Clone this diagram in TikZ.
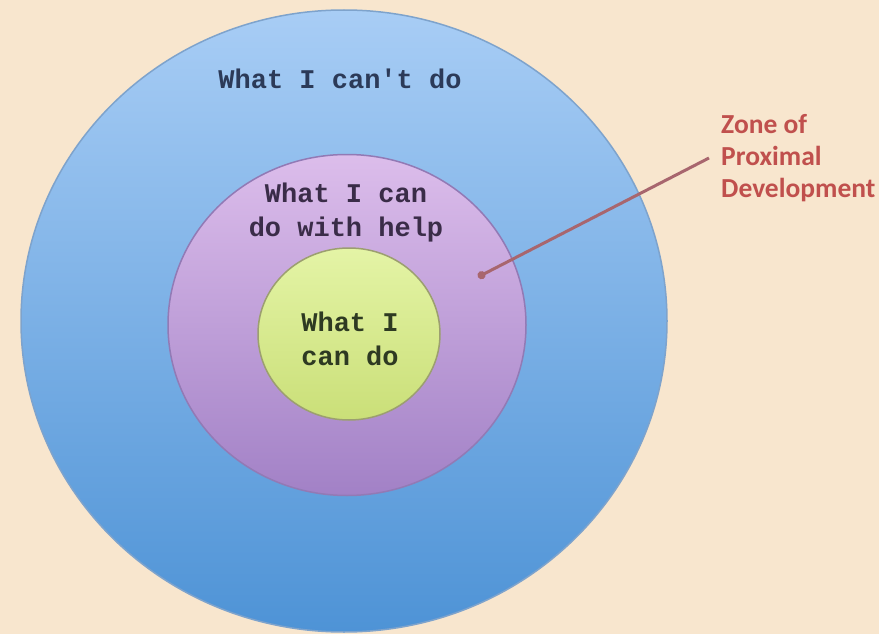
\documentclass[tikz,border=0pt]{standalone}
\usepackage{fontspec}
\setmonofont{Liberation Mono}
\newfontfamily\zpdfont{Carlito}
\usetikzlibrary{shapes.geometric,arrows.meta,positioning}

\definecolor{paper}{HTML}{F8E6CE}
\definecolor{cantTop}{HTML}{A8CDF5}
\definecolor{cantBot}{HTML}{4E93D6}
\definecolor{cantEdge}{HTML}{7EA3CC}
\definecolor{helpTop}{HTML}{DCBDEB}
\definecolor{helpBot}{HTML}{A281C6}
\definecolor{helpEdge}{HTML}{927AB5}
\definecolor{canTop}{HTML}{E4F4A6}
\definecolor{canBot}{HTML}{CADF78}
\definecolor{canEdge}{HTML}{9C9F70}
\definecolor{cantInk}{HTML}{2C3A58}
\definecolor{helpInk}{HTML}{3A2C48}
\definecolor{canInk}{HTML}{2E3A22}
\definecolor{zpdred}{HTML}{C0504D}
\definecolor{pointer}{HTML}{A8666E}

\tikzset{
  ring/.style={ellipse, inner sep=0pt, line width=1.5pt},
  monotext/.style={font=\ttfamily\bfseries\fontsize{27}{34}\selectfont, align=center},
  zpdtext/.style={font=\zpdfont\bfseries\fontsize{27.5}{32}\selectfont, text=zpdred,
    align=left, inner sep=0pt, inner xsep=12pt}
}

\begin{document}
\begin{tikzpicture}[x=1pt,y=-1pt]
\fill[paper] (0,0) rectangle (879,634);
\useasboundingbox (0,0) rectangle (879,634);

% three zones, outside in
\node[ring, draw=cantEdge, top color=cantTop, bottom color=cantBot,
  minimum width=646pt, minimum height=622pt] (cantzone) at (344,321) {};
\node[ring, draw=helpEdge, top color=helpTop, bottom color=helpBot,
  minimum width=358pt, minimum height=341pt] (helpzone) at (347,325) {};
\node[ring, draw=canEdge, top color=canTop, bottom color=canBot,
  minimum width=182pt, minimum height=172pt] (canzone) at (349,334) {};

\node[monotext, text=cantInk] (canttext) at (340,79) {What I can't do};
\node[monotext, text=helpInk] (helptext) at (346,213) {What I can\\do with help};
\node[monotext, text=canInk] (cantext) at (350,339) {What I\\can do};

\node[zpdtext, anchor=west] (zpd) at (709,158) {Zone of\\Proximal\\Development};
\coordinate (zpdpoint) at (478,277);
\draw[pointer, line width=3pt, -{Circle[length=8pt]}] (zpd.west) -- (zpdpoint);
\end{tikzpicture}
\end{document}
